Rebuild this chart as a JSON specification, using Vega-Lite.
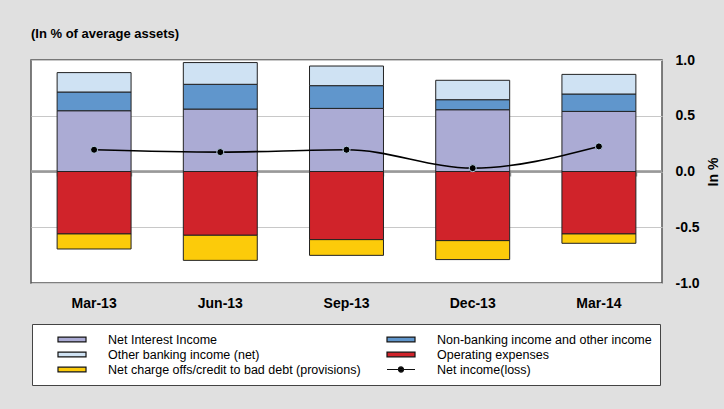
{
  "$schema": "https://vega.github.io/schema/vega-lite/v6.json",
  "width": 631,
  "height": 223,
  "autosize": {"type": "none"},
  "padding": {"left": 31, "top": 60, "right": 62, "bottom": 126},
  "background": "#E0E0E0",
  "title": {
    "text": "(In % of average assets)",
    "anchor": "start",
    "frame": "group",
    "font": "Liberation Sans",
    "fontSize": 13,
    "fontWeight": "bold",
    "color": "#000000",
    "offset": 12
  },
  "config": {
    "view": {"fill": "white", "stroke": "#555555", "strokeWidth": 1.5},
    "font": "Liberation Sans"
  },
  "datasets": {
    "bars": [
      {"q": "Mar-13", "cat": "Net Interest Income", "v": 0.545, "ord": 1},
      {"q": "Mar-13", "cat": "Non-banking income and other income", "v": 0.168, "ord": 2},
      {"q": "Mar-13", "cat": "Other banking income (net)", "v": 0.174, "ord": 3},
      {"q": "Mar-13", "cat": "Operating expenses", "v": -0.56, "ord": 4},
      {"q": "Mar-13", "cat": "Net charge offs/credit to bad debt (provisions)", "v": -0.135, "ord": 5},
      {"q": "Jun-13", "cat": "Net Interest Income", "v": 0.56, "ord": 1},
      {"q": "Jun-13", "cat": "Non-banking income and other income", "v": 0.222, "ord": 2},
      {"q": "Jun-13", "cat": "Other banking income (net)", "v": 0.195, "ord": 3},
      {"q": "Jun-13", "cat": "Operating expenses", "v": -0.572, "ord": 4},
      {"q": "Jun-13", "cat": "Net charge offs/credit to bad debt (provisions)", "v": -0.225, "ord": 5},
      {"q": "Sep-13", "cat": "Net Interest Income", "v": 0.566, "ord": 1},
      {"q": "Sep-13", "cat": "Non-banking income and other income", "v": 0.204, "ord": 2},
      {"q": "Sep-13", "cat": "Other banking income (net)", "v": 0.176, "ord": 3},
      {"q": "Sep-13", "cat": "Operating expenses", "v": -0.611, "ord": 4},
      {"q": "Sep-13", "cat": "Net charge offs/credit to bad debt (provisions)", "v": -0.141, "ord": 5},
      {"q": "Dec-13", "cat": "Net Interest Income", "v": 0.554, "ord": 1},
      {"q": "Dec-13", "cat": "Non-banking income and other income", "v": 0.09, "ord": 2},
      {"q": "Dec-13", "cat": "Other banking income (net)", "v": 0.174, "ord": 3},
      {"q": "Dec-13", "cat": "Operating expenses", "v": -0.62, "ord": 4},
      {"q": "Dec-13", "cat": "Net charge offs/credit to bad debt (provisions)", "v": -0.17, "ord": 5},
      {"q": "Mar-14", "cat": "Net Interest Income", "v": 0.539, "ord": 1},
      {"q": "Mar-14", "cat": "Non-banking income and other income", "v": 0.156, "ord": 2},
      {"q": "Mar-14", "cat": "Other banking income (net)", "v": 0.176, "ord": 3},
      {"q": "Mar-14", "cat": "Operating expenses", "v": -0.56, "ord": 4},
      {"q": "Mar-14", "cat": "Net charge offs/credit to bad debt (provisions)", "v": -0.084, "ord": 5}
    ],
    "ni": [
      {"q": "Mar-13", "ni": 0.195},
      {"q": "Jun-13", "ni": 0.174},
      {"q": "Sep-13", "ni": 0.195},
      {"q": "Dec-13", "ni": 0.03},
      {"q": "Mar-14", "ni": 0.225}
    ]
  },
  "layer": [
    {
      "data": {"name": "ni"},
      "mark": {"type": "rule", "color": "#999999", "strokeWidth": 1.5},
      "encoding": {"y": {"datum": 0, "type": "quantitative"}}
    },
    {
      "data": {"name": "bars"},
      "mark": {"type": "bar", "stroke": "#222222", "strokeWidth": 1},
      "encoding": {
        "x": {
          "field": "q",
          "type": "nominal",
          "sort": null,
          "scale": {"paddingInner": 0.414, "paddingOuter": 0.207},
          "axis": {
            "title": null,
            "labelAngle": 0,
            "labelFont": "Liberation Sans",
            "labelFontSize": 14,
            "labelFontWeight": "bold",
            "labelColor": "#000000",
            "ticks": false,
            "domain": false,
            "grid": false,
            "labelPadding": 13
          }
        },
        "y": {
          "field": "v",
          "type": "quantitative",
          "stack": "zero",
          "scale": {"domain": [-1, 1], "nice": false},
          "axis": {
            "orient": "right",
            "values": [-1, -0.5, 0, 0.5, 1],
            "labelExpr": "(datum.value < 0 ? '-' : '') + format(abs(datum.value), '.1f')",
            "title": "In %",
            "titleAngle": 270,
            "titleFont": "Liberation Sans",
            "titleFontSize": 14,
            "titleFontWeight": "bold",
            "titleColor": "#000000",
            "titlePadding": 21,
            "labelFont": "Liberation Sans",
            "labelFontSize": 14,
            "labelFontWeight": "bold",
            "labelColor": "#000000",
            "labelAlign": "left",
            "labelPadding": 13,
            "ticks": false,
            "domain": false,
            "grid": true,
            "gridColor": "#C8C8C8",
            "gridWidth": 1
          }
        },
        "color": {
          "field": "cat",
          "type": "nominal",
          "scale": {
            "domain": [
              "Net Interest Income",
              "Non-banking income and other income",
              "Other banking income (net)",
              "Operating expenses",
              "Net charge offs/credit to bad debt (provisions)",
              "Net income(loss)"
            ],
            "range": ["#ABABD4", "#6096CC", "#CFE2F3", "#D0232A", "#FCCB0A", "#000000"]
          },
          "legend": {
            "orient": "none",
            "legendX": 1,
            "legendY": 264,
            "direction": "horizontal",
            "columns": 2,
            "title": null,
            "strokeColor": "#444444",
            "fillColor": "#FFFFFF",
            "padding": 8,
            "symbolSize": 2116,
            "symbolType": "M-1,0L-1,0M-0.261,-0.1H0.957V0.1H-0.261Z",
            "symbolStrokeColor": "#111111",
            "symbolStrokeWidth": 1,
            "symbolOpacity": 1,
            "clipHeight": 15,
            "labelFont": "Liberation Sans",
            "labelFontSize": 12.5,
            "labelColor": "#000000",
            "labelOffset": 20,
            "labelLimit": 400,
            "rowPadding": 0,
            "columnPadding": 8,
            "encode": {
              "symbols": {
                "update": {
                  "shape": {"signal": "datum.value === 'Net income(loss)' ? 'M-1,0L-1,0M-0.261,0H0.957M0.238,0a0.11,0.11 0 1,0 0.22,0a0.11,0.11 0 1,0 -0.22,0Z' : 'M-1,0L-1,0M-0.261,-0.1H0.957V0.1H-0.261Z'"},
                  "stroke": {"value": "#111111"},
                  "strokeWidth": {"value": 1.2},
                  "strokeOpacity": {"value": 1},
                  "opacity": {"value": 1}
                }
              }
            }
          }
        },
        "order": {"field": "ord"}
      }
    },
    {
      "data": {"name": "ni"},
      "mark": {"type": "line", "interpolate": "monotone", "strokeWidth": 1.6, "color": "#000000"},
      "encoding": {
        "x": {
          "field": "q",
          "type": "nominal",
          "sort": null,
          "axis": {
            "orient": "bottom",
            "offset": -111,
            "title": null,
            "labels": false,
            "domain": false,
            "grid": false,
            "ticks": true,
            "tickBand": "extent",
            "tickSize": 4,
            "tickColor": "#999999",
            "tickWidth": 1.5
          }
        },
        "y": {"field": "ni", "type": "quantitative"}
      }
    },
    {
      "data": {"name": "ni"},
      "mark": {"type": "point", "filled": true, "size": 50, "fill": "#000000", "stroke": "#B8CCE4", "strokeWidth": 1, "opacity": 1},
      "encoding": {
        "x": {"field": "q", "type": "nominal", "sort": null, "axis": null},
        "y": {"field": "ni", "type": "quantitative"}
      }
    }
  ],
  "resolve": {"axis": {"x": "independent"}}
}
